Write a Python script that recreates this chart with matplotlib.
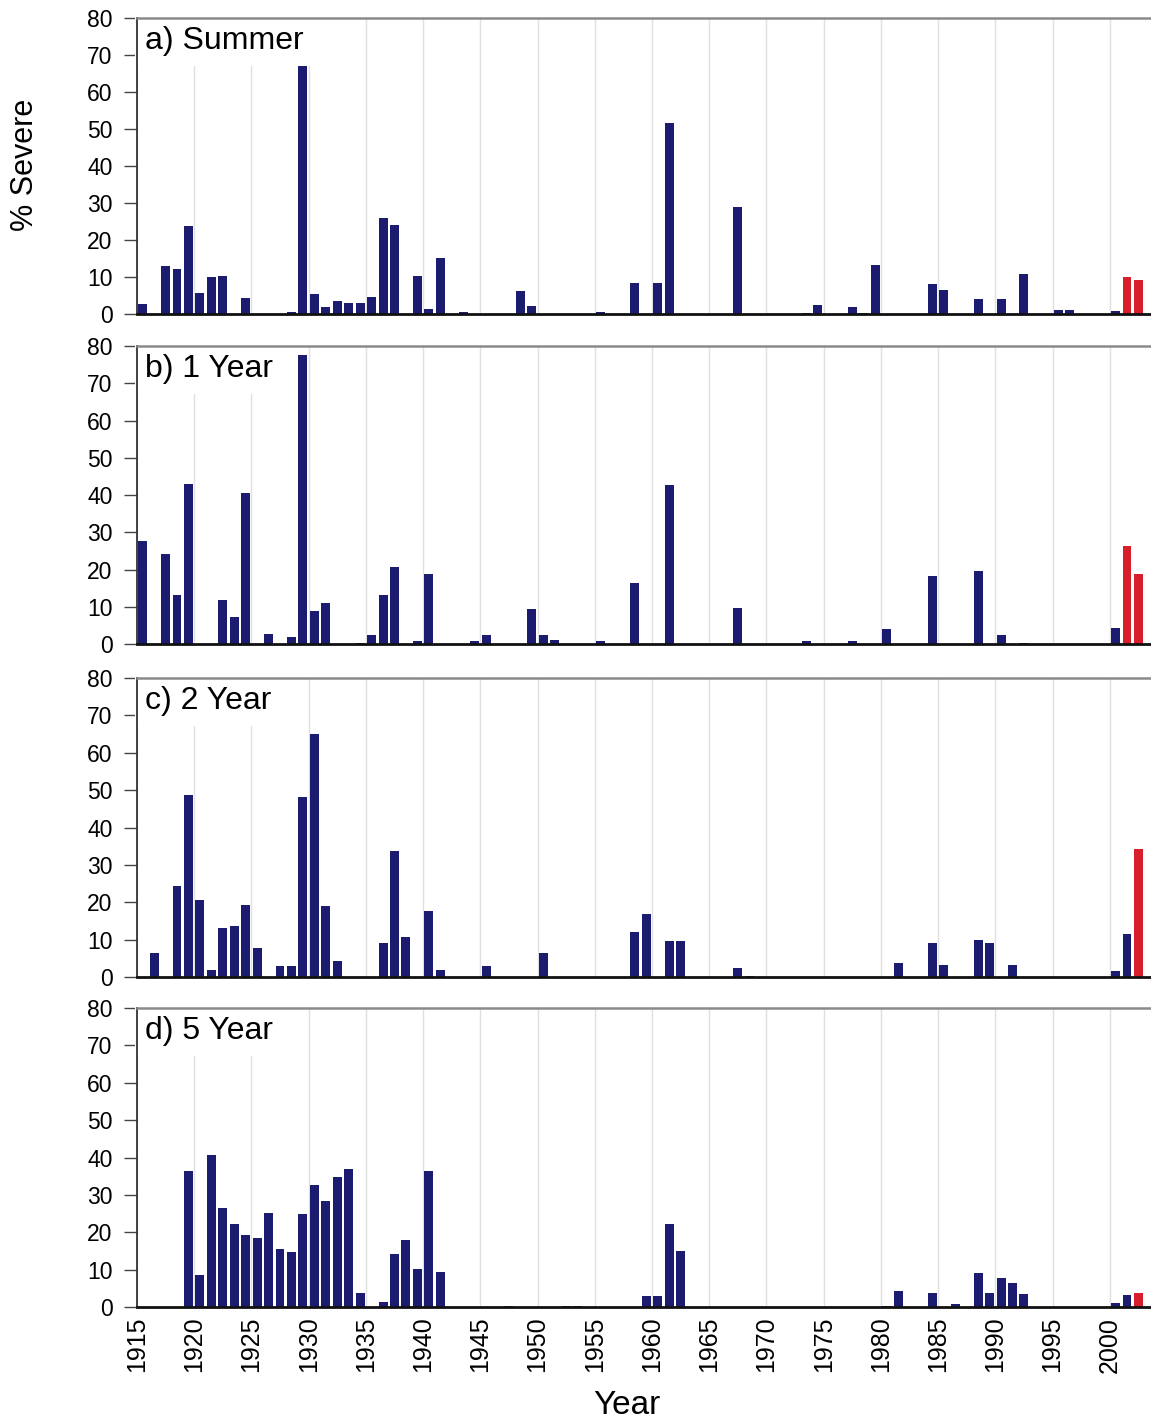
import numpy as np
import matplotlib
matplotlib.use("Agg")
import matplotlib.pyplot as plt

plt.rcParams['font.family'] = ['Liberation Sans', 'DejaVu Sans']

# % severe drought by year
summer_years = [1915, 1917, 1918, 1919, 1920, 1921, 1922, 1924, 1928, 1929, 1930, 1931,
                1932, 1933, 1934, 1935, 1936, 1937, 1939, 1940, 1941, 1943, 1948, 1949,
                1955, 1958, 1960, 1961, 1967, 1973, 1974, 1977, 1978, 1979, 1984, 1985,
                1988, 1990, 1992, 1995, 1996, 2000, 2001, 2002]
summer_vals = [2.8, 13.0, 12.3, 23.7, 5.7, 10.1, 10.3, 4.3, 0.6, 67.1, 5.4, 1.8,
               3.6, 3.0, 3.0, 4.7, 26.0, 24.0, 10.4, 1.3, 15.1, 0.5, 6.1, 2.1,
               0.5, 8.5, 8.3, 51.7, 28.8, 0.4, 2.5, 2.0, 0.4, 13.2, 8.2, 6.5,
               4.0, 4.0, 10.9, 1.2, 1.2, 0.9, 10.1, 9.1]

year1_years = [1915, 1917, 1918, 1919, 1922, 1923, 1924, 1926, 1928, 1929, 1930, 1931,
               1934, 1935, 1936, 1937, 1939, 1940, 1944, 1945, 1949, 1950, 1951, 1955,
               1958, 1961, 1967, 1973, 1977, 1980, 1984, 1988, 1990, 1992, 2000, 2001, 2002]
year1_vals = [27.8, 24.1, 13.2, 43.0, 11.7, 7.2, 40.6, 2.8, 1.8, 77.5, 8.9, 11.1,
              0.3, 2.3, 13.2, 20.8, 0.7, 18.8, 0.7, 2.3, 9.3, 2.3, 1.0, 0.7,
              16.5, 42.6, 9.7, 0.7, 0.9, 4.1, 18.4, 19.7, 2.3, 0.4, 4.4, 26.2, 18.9]

year2_years = [1916, 1918, 1919, 1920, 1921, 1922, 1923, 1924, 1925, 1927, 1928, 1929,
               1930, 1931, 1932, 1936, 1937, 1938, 1940, 1941, 1945, 1950, 1958, 1959,
               1961, 1962, 1967, 1968, 1981, 1984, 1985, 1988, 1989, 1991, 2000, 2001, 2002]
year2_vals = [6.5, 24.4, 48.7, 20.7, 2.0, 13.2, 13.7, 19.2, 7.7, 2.9, 2.9, 48.2,
              64.9, 18.9, 4.3, 9.0, 33.8, 10.6, 17.8, 2.0, 3.0, 6.3, 12.1, 17.0,
              9.6, 9.6, 2.4, 0.4, 3.8, 9.2, 3.1, 10.0, 9.2, 3.1, 1.6, 11.5, 34.3]

year5_years = [1919, 1920, 1921, 1922, 1923, 1924, 1925, 1926, 1927, 1928, 1929, 1930,
               1931, 1932, 1933, 1934, 1936, 1937, 1938, 1939, 1940, 1941, 1947, 1952,
               1953, 1959, 1960, 1961, 1962, 1980, 1981, 1984, 1986, 1988, 1989, 1990,
               1991, 1992, 2000, 2001, 2002]
year5_vals = [36.4, 8.5, 40.6, 26.5, 22.1, 19.2, 18.5, 25.1, 15.6, 14.7, 25.0, 32.6,
              28.4, 34.7, 36.8, 3.7, 1.3, 14.1, 18.0, 10.3, 36.5, 9.5, 0.4, 0.4,
              0.4, 2.9, 2.9, 22.1, 15.1, 0.4, 4.2, 3.8, 0.7, 9.1, 3.8, 7.9,
              6.5, 3.4, 1.0, 3.3, 3.7]

titles = ['a) Summer', 'b) 1 Year', 'c) 2 Year', 'd) 5 Year']
red_years = [[2001, 2002], [2001, 2002], [2002], [2002]]

panels = [(summer_years, summer_vals), (year1_years, year1_vals),
          (year2_years, year2_vals), (year5_years, year5_vals)]

navy = '#1b1b70'
red = '#d81e2a'

fig = plt.figure(figsize=(11.51, 14.23), dpi=100)

# axes boxes in figure fractions (left, bottom, width, height)
boxes = [(0.119, 0.7793, 0.881, 0.2081),
         (0.119, 0.5474, 0.881, 0.2094),
         (0.119, 0.3134, 0.881, 0.2101),
         (0.119, 0.0815, 0.881, 0.2101)]

for i, (yrs, vals) in enumerate(panels):
    ax = fig.add_axes(boxes[i])
    cols = [red if y in red_years[i] else navy for y in yrs]
    ax.bar(np.array(yrs) + 0.5, vals, width=0.78, color=cols, zorder=2)

    ax.set_xlim(1915, 2003.6)
    ax.set_ylim(0, 80)
    ax.set_xticks(range(1915, 2001, 5))
    ax.set_yticks(range(0, 81, 10))
    ax.xaxis.grid(True, color='#e0e0e0', lw=1, zorder=0)
    ax.set_axisbelow(True)

    ax.spines['right'].set_visible(False)
    ax.spines['top'].set_color('#8a8a8a')
    ax.spines['top'].set_linewidth(1.8)
    ax.spines['left'].set_color('#333333')
    ax.spines['left'].set_linewidth(1.3)
    ax.spines['bottom'].set_color('#111111')
    ax.spines['bottom'].set_linewidth(2)
    for s in ax.spines.values():
        s.set_zorder(3)

    ax.tick_params(axis='y', direction='out', length=9.5, width=1,
                   color='#444444', pad=8, labelsize=16.5)
    if i == 3:
        ax.tick_params(axis='x', length=0, pad=7, labelsize=18,
                       labelrotation=90)
    else:
        ax.tick_params(axis='x', length=0, labelbottom=False)

    ax.text(0.008, 0.895, titles[i], transform=ax.transAxes, fontsize=23,
            ha='left', va='baseline', zorder=1,
            bbox=dict(boxstyle='square,pad=0.3', fc='white', ec='none'))

fig.text(0.022, 1 - 165 / 1423, '% Severe', rotation=90, fontsize=22,
         ha='center', va='center')
fig.text(627 / 1151, 1 - 1405 / 1423, 'Year', fontsize=24,
         ha='center', va='center')

fig.savefig('out.png', dpi=100)
